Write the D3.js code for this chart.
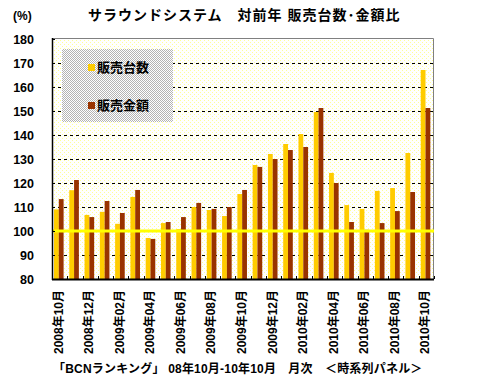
<!DOCTYPE html>
<html><head><meta charset="utf-8">
<script src="https://cdn.jsdelivr.net/npm/d3@7/dist/d3.min.js"></script>
<style>
body{margin:0;background:#fff;}
svg{display:block;}
text{font-family:"Liberation Sans","Noto Sans CJK JP",sans-serif;font-weight:bold;fill:#000;}
</style></head>
<body>
<script>
const categories = ["2008年10月","2008年11月","2008年12月","2009年01月","2009年02月","2009年03月","2009年04月","2009年05月","2009年06月","2009年07月","2009年08月","2009年09月","2009年10月","2009年11月","2009年12月","2010年01月","2010年02月","2010年03月","2010年04月","2010年05月","2010年06月","2010年07月","2010年08月","2010年09月","2010年10月"];
const seriesNames = ["販売台数","販売金額"];
const units  = [109,117,106.7,108,103,114.2,97.1,103.3,100.8,110,108.75,106.25,115.4,127.5,132.1,136.25,140.4,149.6,124.2,110.8,109.2,116.7,117.9,132.5,167.1];
const amount = [113.3,121.25,105.8,112.5,107.5,117.1,96.7,103.75,105.8,111.7,109.2,110,117.1,126.7,130,133.75,135,151.25,120,103.75,100.5,103.3,108.3,116.25,151.25];
const yTicks = [80,90,100,110,120,130,140,150,160,170,180];
const baseline = 100;
const title = "サラウンドシステム　対前年 販売台数･金額比";
const unitLabel = "(%)";
const caption = "「BCNランキング」 08年10月-10年10月　月次　＜時系列パネル＞";
const colors = ["#ffcc00","#993300"];

const W=482,H=382;
const L=52,R=434,T=38,B=279;
const svg=d3.select("body").append("svg").attr("width",W).attr("height",H);
const defs=svg.append("defs");
const p1=defs.append("pattern").attr("id","dots").attr("width",4).attr("height",4).attr("patternUnits","userSpaceOnUse");
p1.append("rect").attr("width",4).attr("height",4).attr("fill","#ffffff");
p1.append("rect").attr("x",0).attr("y",0).attr("width",1).attr("height",1).attr("fill","#ffff99");
p1.append("rect").attr("x",2).attr("y",2).attr("width",1).attr("height",1).attr("fill","#ffff99");
const p2=defs.append("pattern").attr("id","chk").attr("width",2).attr("height",2).attr("patternUnits","userSpaceOnUse");
p2.append("rect").attr("width",2).attr("height",2).attr("fill","#ffffff");
p2.append("rect").attr("x",0).attr("y",0).attr("width",1).attr("height",1).attr("fill","#b4b4b4");
p2.append("rect").attr("x",1).attr("y",1).attr("width",1).attr("height",1).attr("fill","#b4b4b4");

const x=d3.scaleBand().domain(categories).range([L,R]).padding(0);
const xs=d3.scaleBand().domain(seriesNames).range([0,9.6]);
const y=d3.scaleLinear().domain([80,180]).range([B,T+1]);

svg.append("rect").attr("x",L).attr("y",T).attr("width",R-L).attr("height",B-T).attr("fill","url(#dots)");

// gridlines
svg.append("g").selectAll("line").data(yTicks.filter(v=>v>80&&v<180)).join("line")
 .attr("x1",L).attr("x2",R).attr("y1",d=>Math.round(y(d))+0.5).attr("y2",d=>Math.round(y(d))+0.5)
 .attr("stroke","#000").attr("stroke-width",1).attr("stroke-dasharray","3,3");

// border top/right
svg.append("path").attr("d",`M${L},${T+0.5}H${R-0.5}V${B}`).attr("fill","none").attr("stroke","#808080").attr("stroke-width",1);

// bars
const data=categories.map((c,i)=>({c,vals:[units[i],amount[i]]}));
const g=svg.append("g").selectAll("g").data(data).join("g").attr("transform",d=>`translate(${x(d.c)+2},0)`);
g.selectAll("rect").data(d=>d.vals.map((v,j)=>({k:seriesNames[j],v,j}))).join("rect")
 .attr("x",d=>xs(d.k)).attr("width",xs.bandwidth()).attr("y",d=>y(d.v)).attr("height",d=>B-y(d.v))
 .attr("fill",d=>colors[d.j]);

// baseline 100
svg.append("line").attr("x1",L).attr("x2",R).attr("y1",y(baseline)).attr("y2",y(baseline)).attr("stroke","#ffff00").attr("stroke-width",3);

// axes
const yAxis=d3.axisLeft(y).tickValues(yTicks).tickSize(-3).tickPadding(18);
const ya=svg.append("g").attr("transform",`translate(${L},0)`).call(yAxis);
ya.select(".domain").remove();
ya.selectAll("text").attr("font-size","12.5px").attr("dy","0.36em").style("font-family",'"Liberation Sans",sans-serif');
ya.selectAll("line").attr("stroke","#000");
svg.append("line").attr("x1",L+0.5).attr("x2",L+0.5).attr("y1",T).attr("y2",B+1).attr("stroke","#000").attr("stroke-width",1.5);

// x axis line and ticks
svg.append("line").attr("x1",L).attr("x2",R).attr("y1",B+0.5).attr("y2",B+0.5).attr("stroke","#000").attr("stroke-width",2);
const bounds=categories.map(c=>x(c)).concat([R]);
svg.append("g").selectAll("line").data(bounds).join("line")
 .attr("x1",d=>Math.round(d)+0.5).attr("x2",d=>Math.round(d)+0.5).attr("y1",B).attr("y2",B-3).attr("stroke","#000");

// x labels
svg.append("g").selectAll("text").data(categories.filter((c,i)=>i%2===0)).join("text")
 .attr("transform",d=>`translate(${x(d)+x.bandwidth()/2+3},290) rotate(-90)`)
 .attr("text-anchor","end").attr("font-size","12px").text(d=>d);

// legend
svg.append("rect").attr("x",62).attr("y",49).attr("width",111).attr("height",73).attr("fill","url(#chk)");
const lg=svg.append("g").selectAll("g").data(seriesNames).join("g").attr("transform",(d,i)=>`translate(88,${67+i*38})`);
lg.append("rect").attr("x",0).attr("y",-3).attr("width",7).attr("height",7).attr("fill",(d,i)=>colors[i]);
lg.append("text").attr("x",9).attr("y",0).attr("dy","0.4em").attr("font-size","13px").text(d=>d);

// title
svg.append("text").attr("x",88).attr("y",20).attr("font-size","14px").attr("letter-spacing","1px").text(title);
svg.append("text").attr("x",13).attr("y",20).attr("font-size","12px").text(unitLabel);
// caption
svg.append("text").attr("x",53).attr("y",373).attr("font-size","12px").attr("letter-spacing","0.2px").text(caption);
</script>
</body></html>
